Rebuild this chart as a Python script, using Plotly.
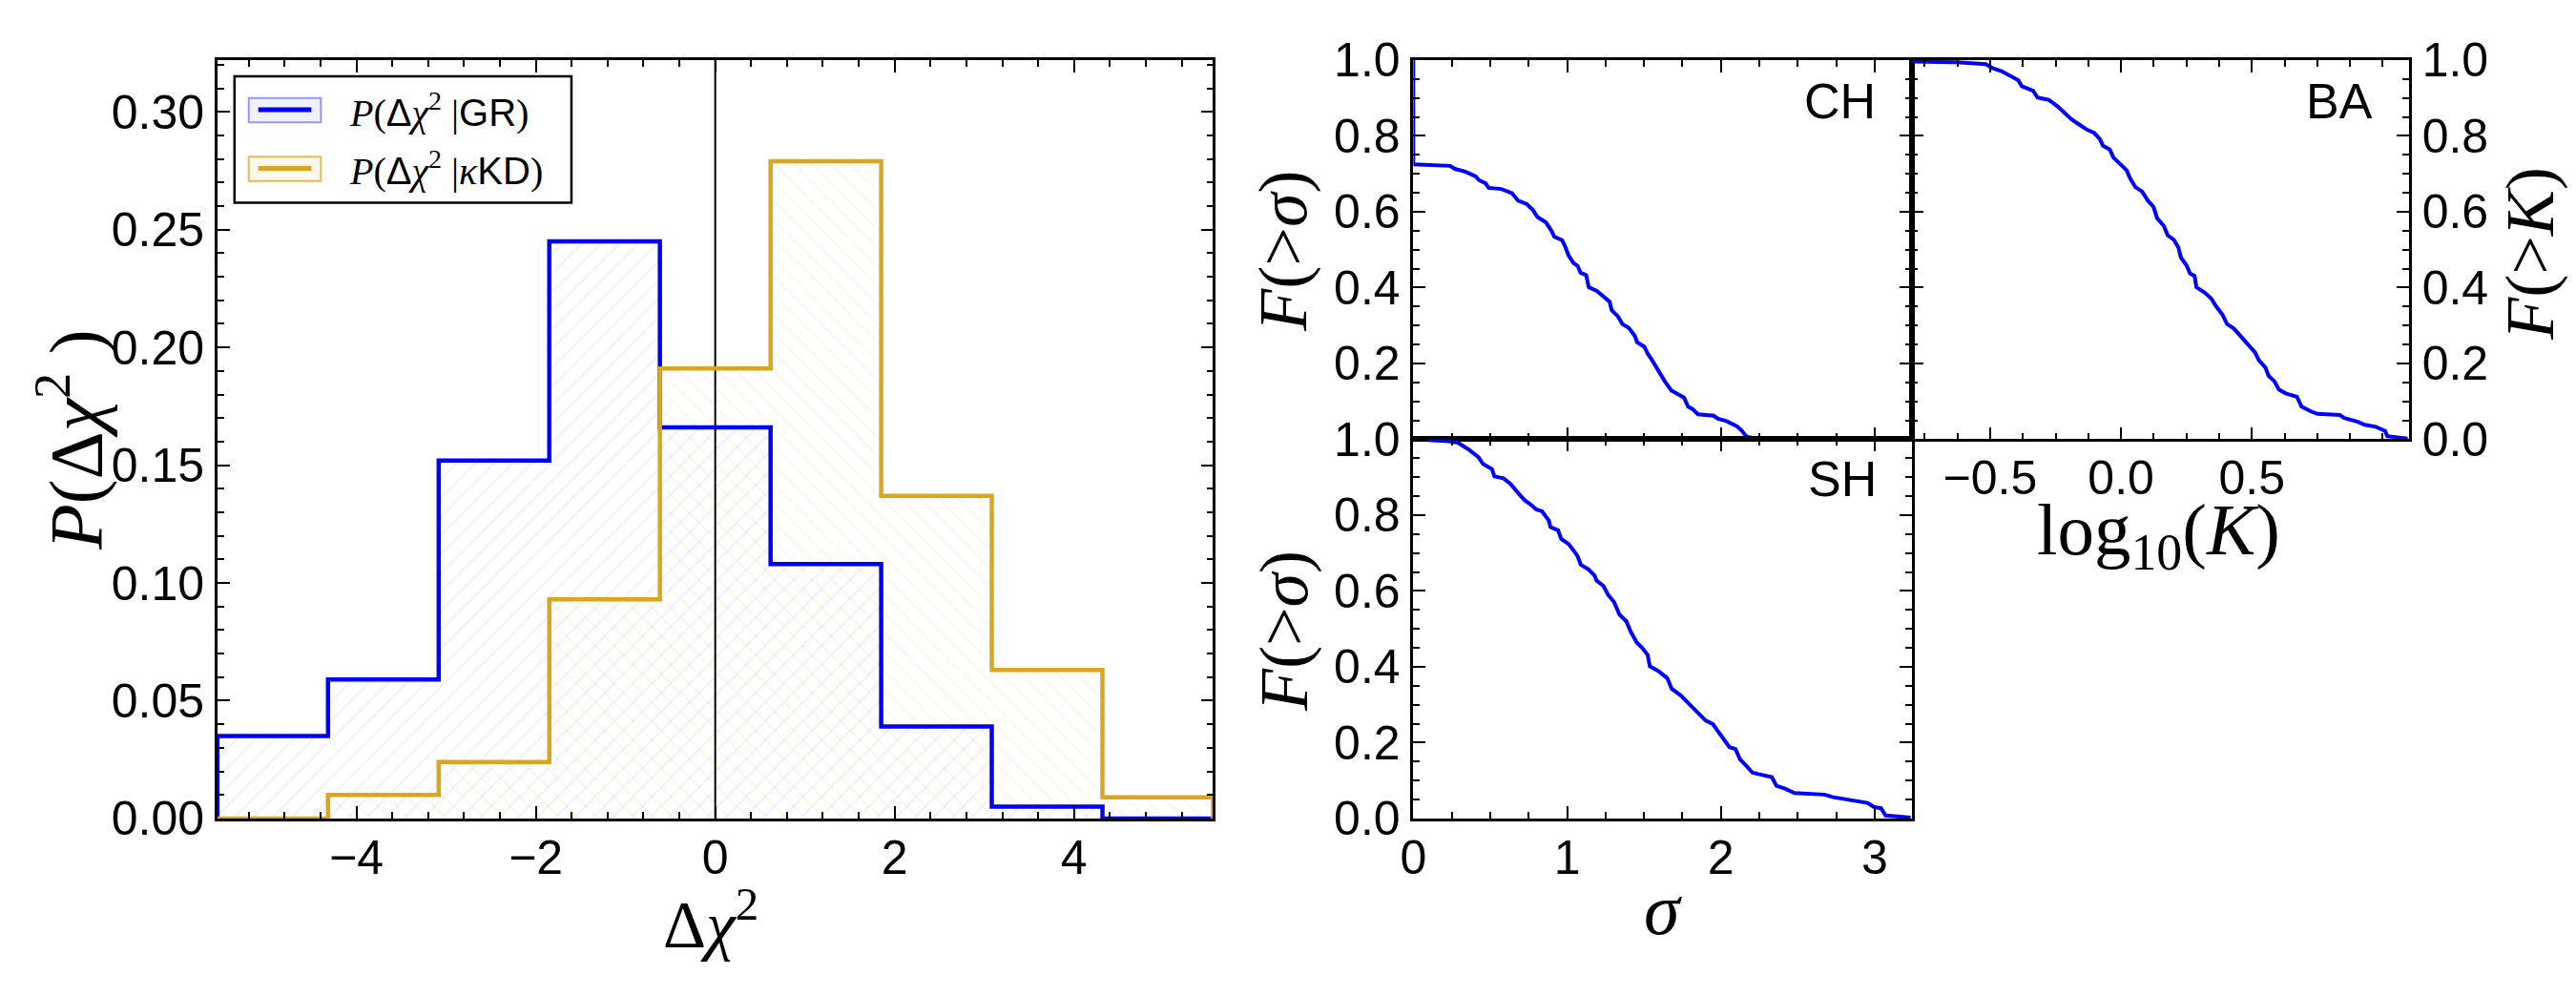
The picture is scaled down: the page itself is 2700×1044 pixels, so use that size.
import numpy as np
import plotly.graph_objects as go

W, H = 2700, 1044

# ---------------- data ----------------
bin_edges = [-5.55, -4.317, -3.083, -1.85, -0.617, 0.617, 1.85, 3.083, 4.317, 5.55]
p_gr = [0.035, 0.059, 0.152, 0.245, 0.166, 0.108, 0.039, 0.005, 0.0]
p_kd = [0.0, 0.010, 0.024, 0.093, 0.191, 0.279, 0.137, 0.063, 0.009]

ch_sigma = [0.0, 0.0, 0.24, 0.27, 0.337, 0.406, 0.428, 0.47, 0.489, 0.572, 0.641, 0.682, 0.738,
            0.779, 0.807, 0.862, 0.898, 0.917, 0.967, 0.986, 1.008, 1.041, 1.069, 1.088, 1.124,
            1.141, 1.193, 1.235, 1.276, 1.29, 1.331, 1.359, 1.40, 1.441, 1.455, 1.502, 1.525,
            1.552, 1.58, 1.608, 1.635, 1.677, 1.732, 1.76, 1.787, 1.815, 1.851, 1.953, 1.981,
            2.036, 2.105, 2.133, 2.16, 2.174, 2.257]
ch_frac = [1.0, 0.725, 0.721, 0.713, 0.706, 0.693, 0.683, 0.675, 0.663, 0.660, 0.649, 0.629, 0.620,
           0.604, 0.586, 0.572, 0.550, 0.534, 0.525, 0.510, 0.486, 0.465, 0.457, 0.439, 0.433,
           0.401, 0.391, 0.378, 0.363, 0.340, 0.324, 0.304, 0.294, 0.272, 0.256, 0.244, 0.225,
           0.209, 0.189, 0.169, 0.153, 0.129, 0.117, 0.110, 0.086, 0.080, 0.066, 0.062, 0.054,
           0.048, 0.034, 0.024, 0.010, 0.006, 0.0]

ba_logk = [-0.797, -0.629, -0.517, -0.491, -0.457, -0.422, -0.393, -0.379, -0.336, -0.319, -0.276,
           -0.241, -0.216, -0.19, -0.164, -0.129, -0.103, -0.081, -0.069, -0.043, -0.029, 0.0,
           0.022, 0.034, 0.055, 0.081, 0.103, 0.124, 0.138, 0.164, 0.178, 0.202, 0.219, 0.229,
           0.25, 0.264, 0.281, 0.288, 0.319, 0.345, 0.362, 0.388, 0.405, 0.431, 0.457, 0.483,
           0.512, 0.526, 0.552, 0.564, 0.586, 0.603, 0.629, 0.672, 0.69, 0.724, 0.75, 0.836,
           0.853, 0.905, 0.931, 0.974, 1.009, 1.017, 1.095]
ba_frac = [0.996, 0.994, 0.989, 0.979, 0.971, 0.959, 0.947, 0.931, 0.919, 0.901, 0.895,
           0.877, 0.860, 0.844, 0.832, 0.816, 0.808, 0.792, 0.774, 0.764, 0.743, 0.725,
           0.709, 0.689, 0.665, 0.653, 0.629, 0.613, 0.583, 0.562, 0.538, 0.526, 0.506, 0.479,
           0.459, 0.437, 0.431, 0.401, 0.387, 0.371, 0.352, 0.328, 0.304, 0.292, 0.272, 0.252,
           0.229, 0.209, 0.189, 0.167, 0.153, 0.131, 0.121, 0.112, 0.086, 0.074, 0.067, 0.064,
           0.056, 0.046, 0.038, 0.033, 0.022, 0.008, 0.002]

sh_sigma = [0.098, 0.231, 0.29, 0.364, 0.423, 0.453, 0.512, 0.527, 0.586, 0.63, 0.689, 0.725,
            0.772, 0.799, 0.837, 0.882, 0.891, 0.941, 0.962, 1.009, 1.038, 1.068, 1.089, 1.139,
            1.178, 1.192, 1.237, 1.266, 1.305, 1.34, 1.385, 1.414, 1.453, 1.488, 1.524, 1.538,
            1.592, 1.651, 1.68, 1.74, 1.778, 1.828, 1.873, 1.902, 1.947, 1.991, 2.021, 2.056,
            2.095, 2.124, 2.169, 2.204, 2.243, 2.331, 2.361, 2.42, 2.479, 2.672, 2.731, 2.834,
            2.953, 2.997, 3.041, 3.071, 3.234]
sh_frac = [0.998, 0.995, 0.991, 0.972, 0.953, 0.935, 0.921, 0.902, 0.897, 0.883, 0.855, 0.839,
           0.825, 0.815, 0.810, 0.785, 0.769, 0.760, 0.737, 0.724, 0.709, 0.692, 0.669, 0.657,
           0.641, 0.627, 0.613, 0.590, 0.571, 0.538, 0.520, 0.492, 0.464, 0.450, 0.431, 0.401,
           0.389, 0.370, 0.342, 0.324, 0.308, 0.289, 0.272, 0.258, 0.249, 0.226, 0.207, 0.188,
           0.183, 0.156, 0.137, 0.121, 0.117, 0.109, 0.086, 0.078, 0.067, 0.063, 0.056, 0.050,
           0.041, 0.030, 0.027, 0.008, 0.002]

hist_yticks = [0.0, 0.05, 0.10, 0.15, 0.20, 0.25, 0.30]
ch_ytickvals = [0.2, 0.4, 0.6, 0.8, 1.0]
ba_xtickvals = [-0.5, 0.0, 0.5]
ba_xticktext = ["\u22120.5", "0.0", "0.5"]

# ---------------- styling ----------------
BLUE = "#0000ff"
GOLD = "#daa520"
SANS = "Liberation Sans"
SERIF = "Liberation Serif"
TICKSIZE = 50


def fx(px):
    return px / W


def fy(py):
    return 1 - py / H


edges = np.array(bin_edges)
centers = (edges[:-1] + edges[1:]) / 2
widths = np.diff(edges)

fig = go.Figure()

# hatched histogram fills
for vals, shape, fg in [(p_gr, "/", "rgba(60,60,200,0.22)"), (p_kd, "\\", "rgba(218,165,32,0.30)")]:
    fig.add_trace(go.Bar(
        x=centers, y=vals, width=widths, xaxis="x", yaxis="y",
        marker=dict(color="rgba(0,0,0,0)", line=dict(width=0),
                    pattern=dict(shape=shape, fgcolor=fg, size=14, solidity=0.1, fillmode="overlay")),
        showlegend=False, hoverinfo="skip"))

# step outlines
for vals, col in [(p_gr, BLUE), (p_kd, GOLD)]:
    xs = [bin_edges[0]] + list(bin_edges)
    ys = [0.0] + list(vals) + [0.0]
    fig.add_trace(go.Scatter(x=xs, y=ys, mode="lines", xaxis="x", yaxis="y",
                             line=dict(color=col, width=4.5, shape="hv"),
                             showlegend=False, hoverinfo="skip"))

# cumulative curves
fig.add_trace(go.Scatter(x=ch_sigma, y=ch_frac, mode="lines", xaxis="x2", yaxis="y2",
                         line=dict(color=BLUE, width=4), showlegend=False))
fig.add_trace(go.Scatter(x=ba_logk, y=ba_frac, mode="lines", xaxis="x3", yaxis="y3",
                         line=dict(color=BLUE, width=4), showlegend=False))
fig.add_trace(go.Scatter(x=sh_sigma, y=sh_frac, mode="lines", xaxis="x4", yaxis="y4",
                         line=dict(color=BLUE, width=4), showlegend=False))


def ax(standoff, **kw):
    d = dict(showline=True, linecolor="black", linewidth=2.5, mirror="ticks",
             ticks="inside", ticklen=13, tickwidth=2, tickcolor="black",
             showgrid=False, zeroline=False,
             tickfont=dict(family=SANS, size=TICKSIZE, color="black"),
             ticklabelstandoff=standoff)
    d.update(kw)
    return d


def minor(dt, t0=0):
    return dict(ticks="inside", ticklen=7, tickwidth=2, tickcolor="black", dtick=dt, tick0=t0, showgrid=False)


yL = [fy(878), fy(38)]
yT = [fy(458), fy(38)]
yB = [fy(878), fy(458)]
xL = [fx(215), fx(1264)]
xC = [fx(1475), fx(2000)]
xR = [fx(2000), fx(2524)]

XS, YS = -5, 1

fig.update_layout(
    width=W, height=H, margin=dict(l=0, r=0, t=0, b=0),
    paper_bgcolor="white", plot_bgcolor="white", barmode="overlay", bargap=0,
    showlegend=False,
    xaxis=ax(XS, domain=xL, anchor="y", range=[bin_edges[0], bin_edges[-1]], dtick=2, tick0=0,
             minor=minor(0.4)),
    yaxis=ax(YS, domain=yL, anchor="x", range=[0, 0.322], tickvals=hist_yticks, tickformat=".2f",
             minor=minor(0.01)),
    xaxis2=ax(XS, domain=xC, anchor="y2", range=[0, 3.24], dtick=1, tick0=0, showticklabels=False,
              minor=minor(0.25), matches="x4"),
    yaxis2=ax(YS, domain=yT, anchor="x2", range=[0, 1], tickvals=ch_ytickvals, tickformat=".1f",
              minor=minor(0.05)),
    xaxis3=ax(XS, domain=xR, anchor="y3", range=[-0.8, 1.1], tickvals=ba_xtickvals, ticktext=ba_xticktext,
              minor=minor(0.125)),
    yaxis3=ax(YS, domain=yT, anchor="x3", side="right", range=[0, 1], dtick=0.2, tick0=0,
              tickformat=".1f", minor=minor(0.05)),
    xaxis4=ax(XS, domain=xC, anchor="y4", range=[0, 3.24], dtick=1, tick0=0, minor=minor(0.25)),
    yaxis4=ax(YS, domain=yB, anchor="x4", range=[0, 1], dtick=0.2, tick0=0, tickformat=".1f",
              minor=minor(0.05)),
)

# vertical line at zero
fig.add_shape(type="line", xref="x", yref="y domain", x0=0, x1=0, y0=0, y1=1,
              line=dict(color="black", width=2), layer="below")

# legend (drawn manually to mimic the patch+line look)
fig.add_shape(type="rect", xref="paper", yref="paper", x0=fx(233), x1=fx(588), y0=fy(196), y1=fy(56),
              line=dict(color="black", width=2.5), fillcolor="white", layer="above")
for (py0, py1, pyl, bcol, fcol, lcol) in [
    (80, 107, 93, "rgba(0,0,255,0.40)", "rgba(120,120,220,0.10)", BLUE),
    (145, 172, 158, "rgba(218,165,32,0.75)", "rgba(240,210,140,0.15)", GOLD),
]:
    fig.add_shape(type="rect", xref="paper", yref="paper", x0=fx(248), x1=fx(324), y0=fy(py1), y1=fy(py0),
                  line=dict(color=bcol, width=2), fillcolor=fcol, layer="above")
    fig.add_shape(type="line", xref="paper", yref="paper", x0=fx(258), x1=fx(314), y0=fy(pyl), y1=fy(pyl),
                  line=dict(color=lcol, width=5), layer="above")

sans = lambda s: f"<span style='font-family:{SANS}'>{s}</span>"
leg_texts = [
    f"<i>P</i>({sans('Δ')}<i>χ</i><sup>2</sup> |{sans('GR')})",
    f"<i>P</i>({sans('Δ')}<i>χ</i><sup>2</sup> |<i>κ</i>{sans('KD')})",
]
for t, pyl in zip(leg_texts, [93, 158]):
    fig.add_annotation(text=t, xref="paper", yref="paper", x=fx(352), y=fy(pyl), xanchor="left",
                       yanchor="middle", showarrow=False, font=dict(family=SERIF, size=40, color="black"))

# axis titles
titles = [
    ("<i>P</i>(Δ<i>χ</i><sup>2</sup> )", 60, 459, 78, -90),
    ("Δ<i>χ</i><sup>2</sup>", 735, 990, 70, 0),
    ("<i>F</i>(&gt;<i>σ</i>)", 1338, 250, 72, -90),
    ("<i>F</i>(&gt;<i>σ</i>)", 1339, 671, 72, -90),
    ("<i>σ</i>", 1738, 978, 76, 0),
    ("log<sub>10</sub>(<i>K</i>)", 2260, 564, 77, 0),
    ("<i>F</i>(&gt;<i>K</i>)", 2652, 252, 72, -90),
]
for t, px, py, sz, ang in titles:
    fig.add_annotation(text=t, xref="paper", yref="paper", x=fx(px), y=fy(py), xanchor="center",
                       yanchor="middle", showarrow=False, textangle=ang,
                       font=dict(family=SERIF, size=sz, color="black"))

# panel labels
for t, px, py in [("CH", 1964, 84), ("BA", 2488, 84), ("SH", 1965, 502)]:
    fig.add_annotation(text=t, xref="paper", yref="paper", x=fx(px), y=fy(py), xanchor="right",
                       yanchor="middle", showarrow=False, font=dict(family=SANS, size=52, color="black"))

fig.write_html("out.html")
